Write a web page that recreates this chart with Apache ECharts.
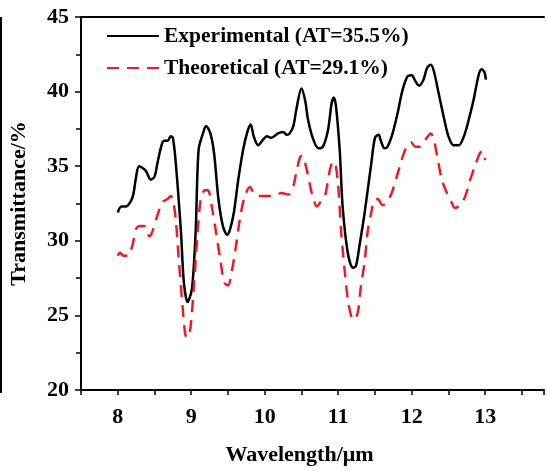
<!DOCTYPE html>
<html>
<head>
<meta charset="utf-8">
<script src="https://cdn.jsdelivr.net/npm/echarts@6/dist/echarts.min.js"></script>
<style>
  html, body { margin: 0; padding: 0; background: #fff; }
  #chart { width: 547px; height: 471px; }
</style>
</head>
<body>
<div id="chart"></div>
<script>
// Experimental curve (wavelength in µm, transmittance in %)
const expWavelength = [8.0, 8.05, 8.11, 8.2, 8.25, 8.29, 8.38, 8.45, 8.5, 8.54, 8.59, 8.63, 8.68, 8.72, 8.75,
  8.79, 8.86, 8.9, 8.95, 9.01, 9.06, 9.1, 9.16, 9.2, 9.26, 9.31, 9.37, 9.43, 9.49, 9.53, 9.58, 9.64, 9.71,
  9.77, 9.81, 9.85, 9.91, 9.98, 10.03, 10.09, 10.18, 10.25, 10.3, 10.34, 10.39, 10.43, 10.5, 10.55, 10.59,
  10.66, 10.73, 10.79, 10.86, 10.91, 10.94, 10.97, 11.02, 11.06, 11.13, 11.2, 11.24, 11.29, 11.36, 11.45,
  11.5, 11.55, 11.58, 11.63, 11.67, 11.74, 11.81, 11.87, 11.94, 12.0, 12.05, 12.1, 12.16, 12.21, 12.26,
  12.3, 12.37, 12.44, 12.5, 12.57, 12.64, 12.71, 12.77, 12.84, 12.91, 12.95, 12.99, 13.01];
const expTransmittance = [31.9, 32.3, 32.3, 32.9, 34.3, 35.0, 34.7, 34.1, 34.3, 35.2, 36.3, 36.7, 36.7, 37.0, 36.9,
  35.2, 30.6, 27.2, 25.9, 26.8, 30.6, 36.1, 37.2, 37.7, 37.2, 35.9, 32.8, 31.0, 30.4, 30.8, 31.9, 34.1, 36.2,
  37.4, 37.8, 37.0, 36.4, 36.8, 37.0, 36.9, 37.2, 37.3, 37.1, 37.2, 37.7, 38.8, 40.2, 39.4, 38.1,
  36.8, 36.2, 36.3, 37.4, 39.2, 39.6, 39.0, 36.1, 32.3, 29.2, 28.2, 28.3, 29.7, 31.9, 35.2,
  36.9, 37.1, 36.7, 36.2, 36.3, 37.2, 38.6, 40.0, 41.0, 41.1, 40.7, 40.4, 40.8, 41.6, 41.8,
  41.4, 39.8, 38.2, 37.0, 36.4, 36.4, 37.0, 38.0, 39.4, 41.1, 41.5, 41.3, 40.8];

// Theoretical curve
const theoWavelength = [8.0, 8.03, 8.08, 8.14, 8.2, 8.25, 8.3, 8.36, 8.43, 8.47, 8.54, 8.61, 8.68, 8.72, 8.75,
  8.79, 8.83, 8.88, 8.92, 8.95, 8.99, 9.04, 9.08, 9.13, 9.19, 9.24, 9.28, 9.33, 9.4, 9.45, 9.5, 9.55, 9.61,
  9.67, 9.73, 9.8, 9.85, 9.91, 10.0, 10.09, 10.16, 10.23, 10.32, 10.39, 10.43, 10.48, 10.51, 10.57, 10.64,
  10.71, 10.76, 10.82, 10.88, 10.93, 10.96, 11.0, 11.04, 11.09, 11.13, 11.18, 11.22, 11.27, 11.31, 11.36,
  11.4, 11.45, 11.49, 11.54, 11.6, 11.65, 11.72, 11.78, 11.85, 11.92, 11.99, 12.05, 12.11, 12.19, 12.26,
  12.3, 12.35, 12.41, 12.48, 12.54, 12.59, 12.66, 12.73, 12.79, 12.86, 12.93, 12.96, 13.0];
const theoTransmittance = [29.0, 29.2, 29.0, 29.0, 29.7, 30.8, 31.0, 31.0, 30.3, 30.6, 31.7, 32.6, 32.8, 33.0, 32.8,
  31.4, 28.8, 25.7, 23.7, 23.5, 24.2, 27.2, 30.1, 32.8, 33.4, 33.3, 32.3, 30.8, 28.6, 27.2, 27.0, 27.9, 29.7,
  31.7, 33.0, 33.6, 33.2, 33.0, 33.0, 33.0, 33.1, 33.2, 33.1, 33.7, 34.6, 35.6, 35.7, 34.8, 33.2,
  32.3, 32.6, 33.0, 34.6, 35.3, 35.2, 33.7, 30.6, 27.9, 26.1, 24.9, 24.7, 25.3, 27.0, 28.6,
  30.6, 31.9, 32.7, 32.8, 32.4, 32.5, 33.1, 34.0, 35.2, 36.2, 36.6, 36.3, 36.3, 36.8, 37.2,
  36.8, 35.6, 34.1, 33.2, 32.6, 32.2, 32.4, 33.0, 34.0, 35.0, 35.9, 36.0, 35.4];

const seriesNames = ['Experimental (AT=35.5%)', 'Theoretical (AT=29.1%)'];
const xAxisTitle = 'Wavelength/\u03bcm';
const yAxisTitle = 'Transmittance/%';

const pairs = (xs, ys) => xs.map((x, i) => [x, ys[i]]);

const font = 'Liberation Serif';
const txt = { fontFamily: font, fontWeight: 'bold', fontSize: 22, color: '#000' };
const chart = echarts.init(document.getElementById('chart'), null, { renderer: 'canvas' });

chart.setOption({
  animation: false,
  backgroundColor: '#fff',
  grid: { left: 81, top: 17, width: 466, height: 375 },
  // edge of a neighbouring panel on the far left
  graphic: [{
    type: 'rect', left: 0, top: 17,
    shape: { width: 2, height: 376 },
    style: { fill: '#000' }
  }],
  legend: {
    orient: 'vertical', left: 106, top: 25, padding: 0,
    itemWidth: 52, itemHeight: 14, itemGap: 10,
    itemStyle: { opacity: 0 },
    textStyle: Object.assign({}, txt, { fontSize: 21.5 }),
    data: seriesNames
  },
  xAxis: [{
    type: 'value', min: 7.5, max: 13.8, interval: 0.5,
    name: xAxisTitle, nameLocation: 'middle', nameGap: 54,
    nameTextStyle: Object.assign({}, txt, { padding: [0, 26, 0, 0] }),
    axisLine: { lineStyle: { color: '#000', width: 2 } },
    axisTick: { show: true, length: 5, lineStyle: { color: '#000', width: 1.5 } },
    axisLabel: Object.assign({
      margin: 16,
      formatter: v => (Number.isInteger(v) && v >= 8 && v <= 13) ? String(v) : ''
    }, txt),
    splitLine: { show: false }
  }, {
    // top frame line
    type: 'value', position: 'top', min: 7.5, max: 13.8,
    axisLine: { show: true, lineStyle: { color: '#000', width: 2 } },
    axisTick: { show: false }, axisLabel: { show: false }, splitLine: { show: false }
  }],
  yAxis: {
    type: 'value', min: 20, max: 45, interval: 5,
    name: yAxisTitle, nameLocation: 'middle', nameGap: 51,
    nameTextStyle: txt,
    axisLine: { lineStyle: { color: '#000', width: 2 } },
    axisTick: { show: true, length: 6, lineStyle: { color: '#000', width: 1.5 } },
    minorTick: { show: true, splitNumber: 2, length: 5, lineStyle: { color: '#000', width: 1.5 } },
    axisLabel: Object.assign({ margin: 12 }, txt),
    splitLine: { show: false }
  },
  series: [
    {
      name: seriesNames[0], type: 'line', symbol: 'none', smooth: 0.3,
      lineStyle: { color: '#000', width: 2.5 },
      itemStyle: { color: '#000' },
      data: pairs(expWavelength, expTransmittance)
    },
    {
      name: seriesNames[1], type: 'line', symbol: 'none', smooth: 0.3,
      lineStyle: { color: '#ec1c24', width: 2.5, type: [12, 8] },
      itemStyle: { color: '#ec1c24' },
      data: pairs(theoWavelength, theoTransmittance)
    }
  ]
});
</script>
</body>
</html>
